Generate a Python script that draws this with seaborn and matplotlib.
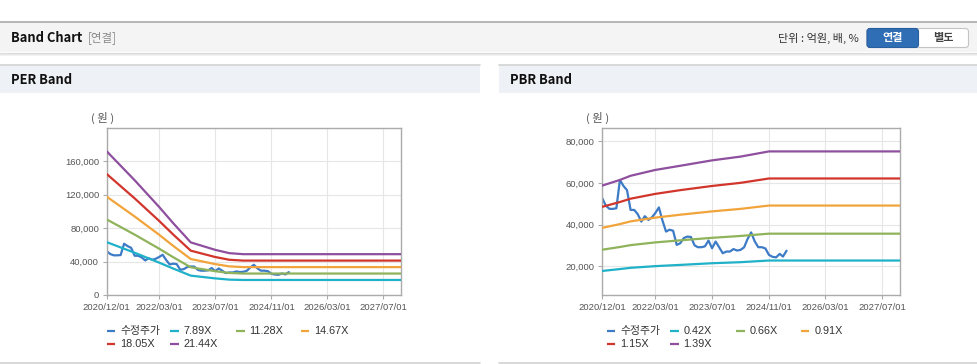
import matplotlib
matplotlib.use('Agg')
import matplotlib.pyplot as plt
import seaborn as sns
import pandas as pd
from matplotlib.patches import Rectangle, FancyBboxPatch
from matplotlib.ticker import FuncFormatter

# ---------------- data ----------------
price_name = '수정주가'
price_start = '2020-12-01'
price = [52600, 49000, 47500, 47500, 47800, 61400, 58500, 56500, 47000, 47000,
         45000, 41400, 44000, 42200, 43500, 45500, 48200, 42000, 36600, 37500,
         37000, 30200, 31000, 33500, 34200, 34000, 30000, 29100, 29100, 29500,
         32300, 28600, 31800, 29000, 26200, 27000, 27000, 28200, 27500, 27800,
         29000, 33000, 36200, 32000, 29100, 29100, 28500, 25400, 24500, 24200,
         25900, 24600, 27400]

per_labels = ['7.89X', '11.28X', '14.67X', '18.05X', '21.44X']
per_dates = ['2020-12-01', '2021-08-01', '2022-03-01', '2022-07-01', '2022-12-01',
             '2023-07-01', '2023-11-01', '2024-03-01', '2027-12-01']
per_b1 = [63300, 50600, 38800, 31700, 23200, 19900, 18400, 18000, 18000]
per_b2 = [90500, 72300, 55500, 45300, 33200, 28500, 26400, 25700, 25700]
per_b3 = [117800, 94000, 72200, 58900, 43100, 37000, 34300, 33400, 33400]
per_b4 = [144900, 115700, 88800, 72500, 53100, 45500, 42200, 41200, 41200]
per_b5 = [172100, 137400, 105500, 86100, 63000, 54100, 50100, 48900, 48900]

pbr_labels = ['0.42X', '0.66X', '0.91X', '1.15X', '1.39X']
pbr_dates = ['2020-12-01', '2021-05-01', '2021-08-01', '2022-03-01', '2022-10-01',
             '2023-07-01', '2024-03-01', '2024-11-01', '2027-12-01']
pbr_b1 = [17700, 18600, 19200, 20000, 20600, 21400, 21900, 22700, 22700]
pbr_b2 = [27900, 29200, 30100, 31400, 32400, 33600, 34500, 35600, 35600]
pbr_b3 = [38400, 40200, 41500, 43300, 44700, 46300, 47500, 49100, 49100]
pbr_b4 = [48500, 50800, 52400, 54700, 56500, 58500, 60000, 62100, 62100]
pbr_b5 = [58700, 61400, 63400, 66200, 68200, 70800, 72600, 75100, 75100]

xtick_dates = ['2020-12-01', '2022-03-01', '2023-07-01', '2024-11-01', '2026-03-01', '2027-07-01']
xtick_labels = ['2020/12/01', '2022/03/01', '2023/07/01', '2024/11/01', '2026/03/01', '2027/07/01']
per_yticks = [0, 40000, 80000, 120000, 160000]
pbr_yticks = [20000, 40000, 60000, 80000]

colors = ['#3d7bc6', '#1fb1c8', '#8fb35a', '#f1a43b', '#d1352c', '#8e4f9e']

# ---------------- style ----------------
sns.set_style('white')
plt.rcParams['font.family'] = ['Liberation Sans', 'Noto Sans CJK KR', 'DejaVu Sans']
KR = ['Noto Sans CJK KR', 'DejaVu Sans']

W, H = 978, 364
fig = plt.figure(figsize=(W / 100, H / 100), dpi=100)
fig.patch.set_facecolor('white')

# background overlay in pixel coordinates
bg = fig.add_axes([0, 0, 1, 1], zorder=-5)
bg.set_xlim(0, W)
bg.set_ylim(H, 0)
bg.axis('off')

# top header bar
bg.add_patch(Rectangle((0, 22), W, 30, facecolor='#f4f4f4', edgecolor='none'))
bg.plot([0, W], [22, 22], color='#b0b0b0', lw=1.3)
for i, a in enumerate([0.35, 0.2, 0.1]):
    bg.plot([0, W], [52.5 + i, 52.5 + i], color='#999999', lw=0.8, alpha=a)
bg.text(11, 38, 'Band Chart', family=KR, fontsize=9.3, fontweight='bold', color='#111111', va='center')
bg.text(88, 38, '[연결]', family=KR, fontsize=8.3, color='#8a8a8a', va='center')
bg.text(859, 38, '단위 : 억원, 배, %', family=KR, fontsize=8, color='#333333', va='center', ha='right')
bg.add_patch(FancyBboxPatch((867, 28.5), 101.5, 19, boxstyle='round,pad=0,rounding_size=3',
                            facecolor='white', edgecolor='#c4c4c4', lw=0.8))
bg.add_patch(FancyBboxPatch((867, 28.5), 51.5, 19, boxstyle='round,pad=0,rounding_size=3',
                            facecolor='#2f6db5', edgecolor='#285f9f', lw=0.8))
bg.text(892.5, 38, '연결', family=KR, fontsize=8, fontweight='bold', color='white', va='center', ha='center')
bg.text(943.5, 38, '별도', family=KR, fontsize=8, fontweight='bold', color='#444444', va='center', ha='center')

# panel headers
for x0, x1, title in [(0, 480, 'PER Band'), (499, W, 'PBR Band')]:
    bg.add_patch(Rectangle((x0, 64.5), x1 - x0, 28, facecolor='#eef2f6', edgecolor='none'))
    bg.plot([x0, x1], [64.5, 64.5], color='#d2d2d2', lw=1.2)
    bg.plot([x0, x1], [363, 363], color='#d2d2d2', lw=1.2)
    bg.text(x0 + 11, 79.5, title, family=KR, fontsize=9.3, fontweight='bold', color='#111111', va='center')


def px_axes(l, r, t, b):
    return [l / W, (H - b) / H, (r - l) / W, (b - t) / H]


def style_axes(ax, ylim, yticks):
    ax.set_xlim(pd.Timestamp('2020-12-01'), pd.Timestamp('2027-12-01'))
    ax.set_ylim(*ylim)
    ax.set_yticks(yticks)
    ax.yaxis.set_major_formatter(FuncFormatter(lambda v, p: f'{int(v):,}'))
    ax.set_xticks(pd.to_datetime(xtick_dates))
    ax.set_xticklabels(xtick_labels)
    ax.grid(True, color='#e6e6e6', lw=0.8)
    ax.set_axisbelow(True)
    for s in ax.spines.values():
        s.set_color('#ababab')
        s.set_linewidth(1.0)
        s.set_visible(True)
    ax.tick_params(axis='both', labelsize=6.8, colors='#ababab', labelcolor='#555555',
                   length=3, width=0.8, pad=2.5, direction='out', bottom=True, left=True)
    ax.set_xlabel('')
    ax.set_ylabel('')


def draw(ax, band_dates, bands):
    pdates = pd.date_range(price_start, periods=len(price), freq='MS')
    sns.lineplot(x=pdates, y=price, ax=ax, color=colors[0], lw=1.6, legend=False, zorder=2)
    bd = pd.to_datetime(band_dates)
    for i, b in enumerate(bands):
        sns.lineplot(x=bd, y=b, ax=ax, color=colors[i + 1], lw=1.6, legend=False, zorder=3)


def legend(x_cols, labels):
    names = [price_name] + labels
    rows_y = [330.7, 344]
    for i, n in enumerate(names):
        r, c = divmod(i, 4)
        x = x_cols[c]
        y = rows_y[r]
        bg.plot([x, x + 8.5], [y, y], color=colors[i], lw=1.6, solid_capstyle='butt')
        bg.text(x + 13.5, y, n, fontsize=7.8, color='#333333', va='center', ha='left')


ax1 = fig.add_axes(px_axes(106.7, 401, 128, 295))
draw(ax1, per_dates, [per_b1, per_b2, per_b3, per_b4, per_b5])
style_axes(ax1, (0, 200000), per_yticks)
bg.text(91, 118, '( 원 )', family=KR, fontsize=8.2, color='#555555', va='center')
legend([106.7, 170, 236, 300.7], per_labels)

ax2 = fig.add_axes(px_axes(602.3, 900, 128.3, 295.3))
draw(ax2, pbr_dates, [pbr_b1, pbr_b2, pbr_b3, pbr_b4, pbr_b5])
style_axes(ax2, (6000, 86200), pbr_yticks)
bg.text(586, 118, '( 원 )', family=KR, fontsize=8.2, color='#555555', va='center')
legend([606.7, 670, 736, 800.7], pbr_labels)

fig.savefig('out.png', dpi=100, facecolor='white')
